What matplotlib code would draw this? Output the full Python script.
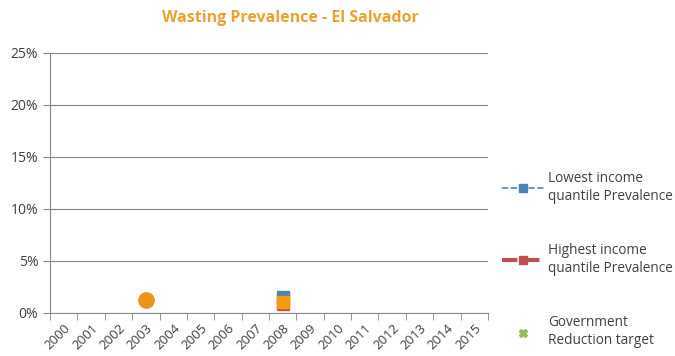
import matplotlib.pyplot as plt
import numpy as np
from matplotlib.ticker import PercentFormatter

plt.rcParams['font.family'] = ['Open Sans', 'DejaVu Sans']

years = [str(y) for y in range(2000, 2016)]
lowest_years = ['2008']
lowest_vals = [1.5]
highest_years = ['2008']
highest_vals = [0.9]
national_years = ['2003', '2008']
national_vals = [1.25, 1.05]
target_years = []
target_vals = []

fig = plt.figure(figsize=(6.75, 3.56), dpi=100)
ax = fig.add_axes([50 / 675, 1 - 313 / 356, 438 / 675, 260 / 356])

pos = {y: i + 0.5 for i, y in enumerate(years)}

ax.plot([pos[y] for y in lowest_years], lowest_vals, color='#4F81BD', ls='--',
        marker='s', ms=9, lw=1.2, label='Lowest income\nquantile Prevalence', zorder=3)
ax.plot([pos[y] for y in highest_years], highest_vals, color='#C0504D', ls='--',
        marker='s', ms=9, lw=3, label='Highest income\nquantile Prevalence', zorder=4)
ax.plot([pos[y] for y in target_years], target_vals, color='#9BBB59', ls='none',
        marker='X', ms=9, label='Government\nReduction target', zorder=5)
ax.plot([pos[national_years[0]]], [national_vals[0]], color='#E8941A', ls='none',
        marker='o', ms=11, zorder=6)
ax.plot([pos[national_years[1]]], [national_vals[1]], color='#F39C12', ls='none',
        marker='s', ms=8, zorder=6)

ax.set_xlim(0, len(years))
ax.set_ylim(0, 25)
ax.set_yticks(np.arange(0, 26, 5))
ax.yaxis.set_major_formatter(PercentFormatter(decimals=0))
ax.set_xticks([pos[y] for y in years])
ax.set_xticklabels(years, rotation=45, ha='right', rotation_mode='anchor')
ax.set_xticks(np.arange(0, len(years) + 1), minor=True)
ax.tick_params(axis='x', which='major', length=0, labelsize=9.5, colors='#404040', pad=6)
ax.tick_params(axis='x', which='minor', length=5, color='#868686')
ax.tick_params(axis='y', length=5, color='#868686', labelsize=10, labelcolor='#404040')
ax.grid(axis='y', color='#868686', lw=0.8)
for s in ['top', 'right']:
    ax.spines[s].set_visible(False)
for s in ['left', 'bottom']:
    ax.spines[s].set_color('#868686')

fig.text(290 / 675, 1 - 18 / 356, 'Wasting Prevalence - El Salvador', color='#F0A030',
         fontsize=11.5, fontweight='bold', ha='center', va='center')

leg = ax.legend(loc='center left', bbox_to_anchor=(1.0, 0.205), frameon=False,
                fontsize=9.8, labelspacing=2.85, handlelength=3.2, handletextpad=0.2,
                markerscale=0.6, alignment='left', borderaxespad=0.6)
for t in leg.get_texts():
    t.set_color('#404040')
    t.set_linespacing(1.3)

fig.savefig('out.png', dpi=100)
